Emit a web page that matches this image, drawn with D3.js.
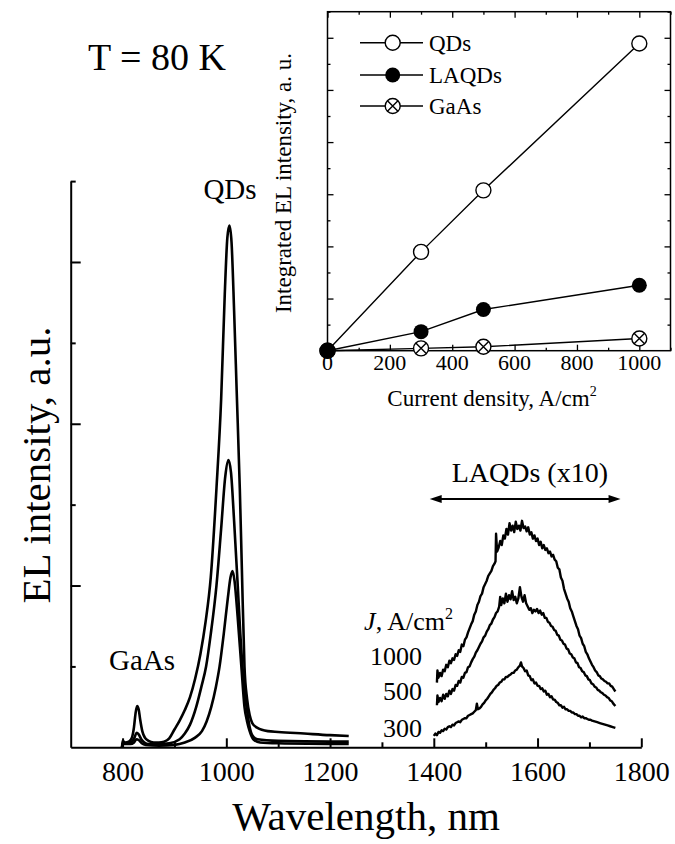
<!DOCTYPE html>
<html><head><meta charset="utf-8">
<script src="https://cdn.jsdelivr.net/npm/d3@7/dist/d3.min.js"></script>
<style>body{margin:0;background:#fff}svg{display:block}text{font-family:"Liberation Serif","Times New Roman",serif;fill:#000}</style>
</head><body><svg id="c" width="675" height="844"></svg>
<script>
// ---- main spectra [wavelength nm, EL intensity a.u.] ----
const spec1000 = [[799,0.0],[800,0.08],[805,0.06],[812,0.07],[818,0.12],[822,0.25],[825,0.42],[828,0.51],[831,0.47],[834,0.34],[838,0.20],[843,0.12],[850,0.08],[860,0.06],[870,0.06],[880,0.07],[890,0.11],[900,0.22],[910,0.33],[920,0.46],[930,0.62],[940,0.85],[950,1.15],[960,1.55],[970,2.1],[981,3.2],[990,4.3],[997,5.6],[1002,6.3],[1006,6.45],[1010,6.25],[1015,5.4],[1020,4.4],[1026,3.2],[1030,2.2],[1035,1.0],[1040,0.6],[1045,0.4],[1050,0.3],[1060,0.24],[1080,0.2],[1100,0.19],[1150,0.17],[1200,0.15],[1236,0.14]];
const spec500 = [[799,0.0],[800,0.05],[810,0.05],[818,0.07],[823,0.12],[827,0.18],[831,0.16],[836,0.10],[842,0.06],[850,0.04],[870,0.04],[890,0.05],[910,0.10],[920,0.17],[930,0.28],[942,0.5],[952,0.75],[961,1.0],[970,1.4],[981,2.0],[990,2.7],[998,3.35],[1004,3.55],[1009,3.4],[1015,2.8],[1022,2.0],[1027,1.4],[1031,1.0],[1036,0.65],[1039,0.5],[1045,0.25],[1050,0.15],[1060,0.10],[1100,0.08],[1200,0.07],[1236,0.07]];
const spec300 = [[799,0.0],[800,0.04],[815,0.04],[822,0.06],[827,0.10],[831,0.09],[837,0.05],[845,0.03],[870,0.02],[900,0.03],[920,0.06],[940,0.12],[953,0.2],[962,0.32],[971,0.5],[980,0.75],[987,1.0],[995,1.4],[1003,1.85],[1008,2.1],[1012,2.18],[1016,2.05],[1022,1.6],[1029,1.0],[1035,0.5],[1040,0.32],[1045,0.2],[1052,0.1],[1065,0.06],[1100,0.05],[1236,0.04]];
// ---- LAQDs spectra (x10) ----
const laqd1000 = [[1406,0.80],[1407,0.95],[1409,0.86],[1412,0.92],[1415,0.88],[1418,0.96],[1421,0.94],[1424,1.02],[1427,0.99],[1430,1.07],[1433,1.04],[1436,1.10],[1439,1.08],[1442,1.15],[1445,1.13],[1448,1.20],[1451,1.18],[1454,1.27],[1457,1.25],[1460,1.33],[1463,1.36],[1466,1.42],[1469,1.47],[1472,1.52],[1475,1.56],[1478,1.64],[1481,1.68],[1484,1.76],[1487,1.80],[1490,1.87],[1493,1.90],[1496,1.98],[1499,2.02],[1502,2.06],[1505,2.12],[1508,2.15],[1511,2.18],[1514,2.24],[1517,2.27],[1519,2.30],[1520,2.64],[1522,2.42],[1525,2.47],[1528,2.55],[1531,2.50],[1534,2.62],[1537,2.58],[1540,2.70],[1543,2.63],[1546,2.77],[1549,2.68],[1552,2.74],[1555,2.66],[1558,2.79],[1561,2.70],[1564,2.74],[1567,2.68],[1570,2.80],[1573,2.71],[1576,2.73],[1579,2.67],[1582,2.72],[1585,2.63],[1588,2.66],[1591,2.58],[1594,2.62],[1597,2.55],[1600,2.58],[1603,2.50],[1606,2.54],[1609,2.46],[1612,2.50],[1615,2.44],[1618,2.46],[1621,2.40],[1624,2.42],[1627,2.36],[1630,2.38],[1633,2.32],[1636,2.30],[1639,2.22],[1642,2.20],[1645,2.10],[1648,2.06],[1651,1.96],[1654,1.90],[1657,1.84],[1660,1.80],[1663,1.72],[1666,1.68],[1669,1.62],[1672,1.56],[1675,1.50],[1678,1.46],[1681,1.38],[1684,1.35],[1687,1.28],[1690,1.25],[1693,1.18],[1696,1.15],[1699,1.10],[1702,1.06],[1705,1.02],[1708,0.99],[1711,0.95],[1714,0.93],[1717,0.89],[1720,0.88],[1723,0.85],[1726,0.84],[1729,0.82],[1732,0.81],[1735,0.79],[1738,0.79],[1741,0.76],[1744,0.75],[1747,0.72],[1750,0.69]];
const laqd500 = [[1406,0.52],[1407,0.64],[1409,0.56],[1412,0.61],[1415,0.57],[1418,0.65],[1421,0.60],[1424,0.66],[1427,0.63],[1430,0.70],[1433,0.66],[1436,0.72],[1439,0.70],[1442,0.77],[1445,0.76],[1448,0.82],[1451,0.80],[1454,0.87],[1457,0.86],[1460,0.92],[1463,0.93],[1466,0.99],[1469,1.00],[1472,1.05],[1475,1.09],[1478,1.12],[1481,1.17],[1484,1.20],[1487,1.24],[1490,1.28],[1493,1.31],[1496,1.36],[1499,1.38],[1502,1.43],[1505,1.46],[1508,1.51],[1511,1.53],[1514,1.58],[1517,1.61],[1520,1.66],[1523,1.68],[1526,1.74],[1528,1.86],[1530,1.76],[1533,1.84],[1536,1.78],[1539,1.90],[1542,1.80],[1545,1.88],[1548,1.83],[1551,1.93],[1554,1.82],[1557,1.86],[1560,1.78],[1563,1.84],[1566,1.98],[1569,1.86],[1572,1.80],[1575,1.88],[1578,1.78],[1581,1.74],[1584,1.70],[1587,1.72],[1590,1.66],[1593,1.70],[1596,1.68],[1599,1.71],[1602,1.66],[1605,1.69],[1608,1.64],[1611,1.66],[1614,1.60],[1617,1.60],[1620,1.55],[1623,1.54],[1626,1.50],[1629,1.49],[1632,1.45],[1635,1.44],[1638,1.39],[1641,1.38],[1644,1.33],[1647,1.32],[1650,1.28],[1653,1.27],[1656,1.22],[1659,1.21],[1662,1.16],[1665,1.15],[1668,1.11],[1671,1.10],[1674,1.05],[1677,1.04],[1680,0.99],[1683,0.98],[1686,0.94],[1689,0.93],[1692,0.89],[1695,0.88],[1698,0.84],[1701,0.83],[1704,0.79],[1707,0.78],[1710,0.75],[1713,0.74],[1716,0.71],[1719,0.70],[1722,0.68],[1725,0.67],[1728,0.65],[1731,0.64],[1734,0.62],[1737,0.61],[1740,0.58],[1743,0.57],[1746,0.54],[1750,0.51]];
const laqd300 = [[1400,0.14],[1403,0.17],[1406,0.15],[1409,0.19],[1412,0.18],[1415,0.21],[1418,0.20],[1421,0.23],[1424,0.22],[1427,0.25],[1430,0.26],[1433,0.25],[1436,0.28],[1439,0.27],[1442,0.30],[1445,0.31],[1448,0.32],[1451,0.31],[1454,0.34],[1457,0.35],[1460,0.36],[1463,0.36],[1466,0.39],[1469,0.40],[1472,0.41],[1475,0.42],[1478,0.44],[1481,0.46],[1483,0.54],[1485,0.47],[1488,0.48],[1491,0.50],[1494,0.53],[1497,0.55],[1500,0.58],[1503,0.60],[1506,0.63],[1509,0.66],[1512,0.68],[1515,0.71],[1518,0.73],[1521,0.76],[1524,0.77],[1527,0.80],[1530,0.81],[1533,0.84],[1536,0.84],[1539,0.87],[1542,0.87],[1545,0.89],[1548,0.90],[1551,0.92],[1554,0.92],[1557,0.95],[1560,0.96],[1563,0.99],[1566,1.01],[1568,1.05],[1570,1.00],[1573,0.98],[1576,0.94],[1579,0.95],[1582,0.89],[1585,0.88],[1588,0.83],[1591,0.84],[1594,0.79],[1597,0.80],[1600,0.76],[1603,0.76],[1606,0.72],[1609,0.73],[1612,0.69],[1615,0.70],[1618,0.65],[1621,0.66],[1624,0.62],[1627,0.63],[1630,0.59],[1633,0.59],[1636,0.56],[1639,0.55],[1642,0.52],[1645,0.52],[1648,0.49],[1651,0.50],[1654,0.47],[1657,0.47],[1660,0.45],[1663,0.45],[1666,0.43],[1669,0.43],[1672,0.41],[1675,0.41],[1678,0.39],[1681,0.39],[1684,0.37],[1687,0.38],[1690,0.36],[1693,0.36],[1696,0.35],[1699,0.34],[1702,0.34],[1705,0.33],[1710,0.32],[1715,0.31],[1720,0.30],[1725,0.29],[1730,0.28],[1735,0.27],[1740,0.26],[1745,0.25],[1750,0.24]];
const currentLabels = ["1000","500","300"];
const xTicksMain = [800,1000,1200,1400,1600,1800];
const xMinorMain = [900,1100,1300,1500,1700];
// ---- inset: integrated EL intensity ----
const currents = [0,300,500,1000];
const intQDs = [0,3.79,6.15,11.78];
const intLAQDs = [0,0.73,1.58,2.51];
const intGaAs = [0,0.09,0.15,0.47];
const insetSeries = ["QDs","LAQDs","GaAs"];
const xTicksInset = [0,200,400,600,800,1000];

const svg = d3.select("#c");
svg.append("rect").attr("width",675).attr("height",844).attr("fill","#fff");

const x = d3.scaleLinear().domain([700,1800]).range([70.7,641.3]);
const y = d3.scaleLinear().domain([0,7]).range([747.3,181.1]);
function styleAxis(g,w){g.select(".domain").attr("stroke","#000").attr("stroke-width",w);g.selectAll(".tick line").attr("stroke","#000").attr("stroke-width",w);}

const gx = svg.append("g").attr("transform",`translate(0,${y(0)})`)
  .call(d3.axisBottom(x).tickValues(xTicksMain).tickSize(-9).tickSizeOuter(0).tickPadding(14).tickFormat(d3.format("d")));
styleAxis(gx,2);
gx.selectAll("text").attr("font-size",28).style("font-family","Liberation Serif");
const gx2 = svg.append("g").attr("transform",`translate(0,${y(0)})`)
  .call(d3.axisBottom(x).tickValues(xMinorMain).tickSize(-5).tickSizeOuter(0).tickFormat(""));
styleAxis(gx2,2); gx2.select(".domain").remove();
const gy = svg.append("g").attr("transform",`translate(${x(700)},0)`)
  .call(d3.axisLeft(y).tickValues([2,4,6]).tickSize(-10).tickSizeOuter(0).tickFormat(""));
styleAxis(gy,2);
const gy2 = svg.append("g").attr("transform",`translate(${x(700)},0)`)
  .call(d3.axisLeft(y).tickValues([1,3,5,7]).tickSize(-5).tickSizeOuter(0).tickFormat(""));
styleAxis(gy2,2); gy2.select(".domain").remove();

const line = d3.line().x(d=>x(d[0])).y(d=>y(d[1])).curve(d3.curveMonotoneX);
[spec1000,spec500,spec300].forEach(s=>{
  svg.append("path").datum(s).attr("d",line)
    .attr("fill","none").attr("stroke","#000").attr("stroke-width",2.6).attr("stroke-linejoin","round");
});
const lineN = d3.line().x(d=>x(d[0])).y(d=>y(d[1]));
[laqd1000,laqd500,laqd300].forEach(s=>{
  svg.append("path").datum(s).attr("d",lineN)
    .attr("fill","none").attr("stroke","#000").attr("stroke-width",2.4).attr("stroke-linejoin","round");
});

svg.append("text").attr("x",88).attr("y",70).attr("font-size",38).text("T = 80 K");
svg.append("text").attr("x",230).attr("y",199).attr("font-size",29).attr("text-anchor","middle").text("QDs");
svg.append("text").attr("x",142).attr("y",670).attr("font-size",29).attr("text-anchor","middle").text("GaAs");
svg.append("text").attr("x",366).attr("y",830).attr("font-size",41).attr("text-anchor","middle").text("Wavelength, nm");
svg.append("text").attr("transform","translate(50,465) rotate(-90)").attr("font-size",41).attr("text-anchor","middle").text("EL intensity, a.u.");
svg.append("text").attr("x",451.7).attr("y",481.7).attr("font-size",28).text("LAQDs (x10)");
const ay = 499, ax1 = x(1392), ax2 = x(1760);
svg.append("line").attr("x1",ax1+6).attr("x2",ax2-6).attr("y1",ay).attr("y2",ay).attr("stroke","#000").attr("stroke-width",2);
svg.append("path").attr("d",`M${ax1},${ay}L${ax1+12},${ay-4}L${ax1+12},${ay+4}Z`).attr("fill","#000");
svg.append("path").attr("d",`M${ax2},${ay}L${ax2-12},${ay-4}L${ax2-12},${ay+4}Z`).attr("fill","#000");
const jt = svg.append("text").attr("x",453).attr("y",630).attr("font-size",26).attr("text-anchor","end");
jt.append("tspan").attr("font-style","italic").text("J");
jt.append("tspan").text(", A/cm");
jt.append("tspan").attr("font-size",16).attr("dy",-11).text("2");
const labY = [665,700,737];
currentLabels.forEach((t,i)=>svg.append("text").attr("x",422).attr("y",labY[i]).attr("font-size",26).attr("text-anchor","end").text(t));

// ---- inset ----
const xi = d3.scaleLinear().domain([0,1100]).range([327.5,670.5]);
const yi = d3.scaleLinear().domain([0,13]).range([350.7,11.7]);
const ins = svg.append("g");
ins.append("rect").attr("x",xi(0)).attr("y",yi(13)).attr("width",xi(1100)-xi(0)).attr("height",yi(0)-yi(13))
  .attr("fill","none").attr("stroke","#000").attr("stroke-width",1.5);
const maj = d3.range(0,1101,200), mnr = d3.range(100,1101,200);
const ymaj = d3.range(2,13,2), ymnr = d3.range(1,14,2);
function ax(gen,scale,vals,size,tr){
  const g = ins.append("g").attr("transform",tr).call(gen(scale).tickValues(vals).tickSize(size).tickSizeOuter(0).tickFormat(""));
  g.select(".domain").remove(); g.selectAll(".tick line").attr("stroke","#000").attr("stroke-width",1.3); return g;}
ax(d3.axisBottom,xi,maj,-6,`translate(0,${yi(0)})`);
ax(d3.axisBottom,xi,mnr,-3,`translate(0,${yi(0)})`);
ax(d3.axisTop,xi,maj,-6,`translate(0,${yi(13)})`);
ax(d3.axisTop,xi,mnr,-3,`translate(0,${yi(13)})`);
ax(d3.axisLeft,yi,ymaj,-6,`translate(${xi(0)},0)`);
ax(d3.axisLeft,yi,ymnr,-3,`translate(${xi(0)},0)`);
ax(d3.axisRight,yi,ymaj,-6,`translate(${xi(1100)},0)`);
ax(d3.axisRight,yi,ymnr,-3,`translate(${xi(1100)},0)`);
xTicksInset.forEach(v=>ins.append("text").attr("x",xi(v)).attr("y",370).attr("font-size",22).attr("text-anchor","middle").text(v));
const ct = ins.append("text").attr("x",492).attr("y",406).attr("font-size",23).attr("text-anchor","middle");
ct.append("tspan").text("Current density, A/cm");
ct.append("tspan").attr("font-size",14).attr("dy",-10).text("2");
ins.append("text").attr("transform","translate(291,183) rotate(-90)").attr("font-size",23).attr("text-anchor","middle").text("Integrated EL intensity, a. u.");

const li = d3.line().x(d=>xi(d[0])).y(d=>yi(d[1]));
const sets = [intQDs,intLAQDs,intGaAs];
function marker(g,kind,cx,cy){
  const r=7.5;
  if(kind==="QDs") g.append("circle").attr("cx",cx).attr("cy",cy).attr("r",r).attr("fill","#fff").attr("stroke","#000").attr("stroke-width",1.4);
  else if(kind==="LAQDs") g.append("circle").attr("cx",cx).attr("cy",cy).attr("r",r).attr("fill","#000");
  else { g.append("circle").attr("cx",cx).attr("cy",cy).attr("r",r).attr("fill","#fff").attr("stroke","#000").attr("stroke-width",1.4);
    const k=r*0.7; g.append("path").attr("d",`M${cx-k},${cy-k}L${cx+k},${cy+k}M${cx-k},${cy+k}L${cx+k},${cy-k}`).attr("stroke","#000").attr("stroke-width",1.4);}
}
[2,1,0].forEach(s=>{
  ins.append("path").datum(currents.map((c,i)=>[c,sets[s][i]])).attr("d",li).attr("fill","none").attr("stroke","#000").attr("stroke-width",1.4);
});
[2,0,1].forEach(s=>{currents.forEach((c,i)=>marker(ins,insetSeries[s],xi(c),yi(sets[s][i])));});
const legY=[42.7,75,106];
insetSeries.forEach((s,i)=>{
  ins.append("line").attr("x1",360).attr("x2",423).attr("y1",legY[i]).attr("y2",legY[i]).attr("stroke","#000").attr("stroke-width",1.4);
  marker(ins,s,392.7,legY[i]);
  ins.append("text").attr("x",429).attr("y",legY[i]+8).attr("font-size",23).text(s);
});
</script></body></html>
